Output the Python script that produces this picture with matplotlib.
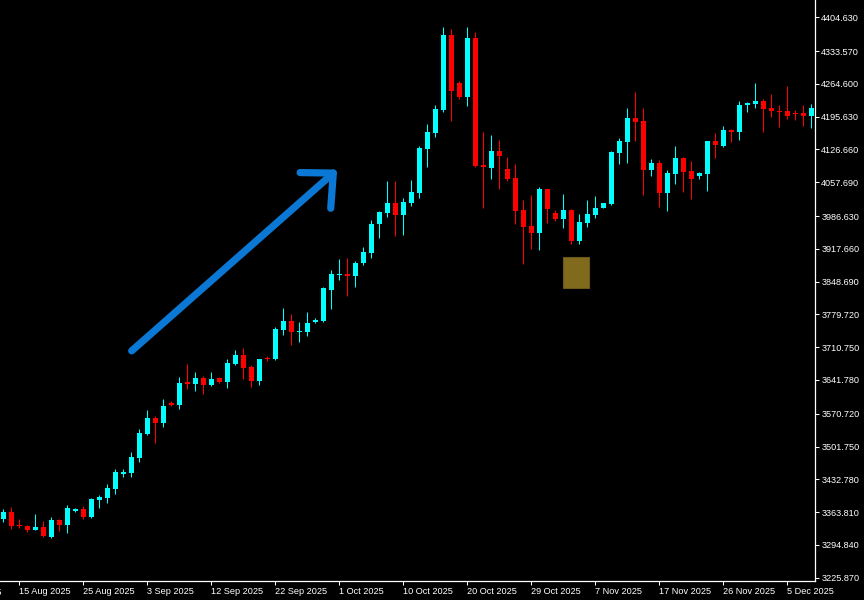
import matplotlib
matplotlib.use("Agg")
import matplotlib.pyplot as plt
from matplotlib.patches import Rectangle
import numpy as np

# daily candles (bar index 0..101), prices
opens = [3349, 3365, 3337, 3335, 3327, 3332, 3312, 3347, 3337, 3366,
         3370, 3354, 3389, 3394, 3412, 3444, 3447, 3478, 3529, 3562,
         3552, 3594, 3589, 3637, 3633, 3646, 3631, 3646, 3638, 3675,
         3694, 3670, 3640, 3689, 3685, 3747, 3766, 3743, 3743, 3764,
         3766, 3832, 3862, 3865, 3861, 3888, 3909, 3969, 3994, 4014,
         3989, 4015, 4035, 4128, 4162, 4210, 4367, 4267, 4238, 4361,
         4094, 4088, 4123, 4085, 4067, 3999, 3966, 3951, 4043, 3993,
         3980, 3999, 3935, 3973, 3989, 4004, 4012, 4120, 4142, 4193,
         4187, 4083, 4098, 4036, 4075, 4109, 4081, 4071, 4075, 4144,
         4134, 4168, 4163, 4220, 4222, 4229, 4214, 4208, 4207, 4203,
         4203, 4196]
highs = [3370, 3375, 3349, 3337, 3360, 3345, 3353, 3349, 3379, 3373,
         3377, 3394, 3400, 3423, 3455, 3455, 3490, 3539, 3579, 3565,
         3602, 3598, 3648, 3675, 3659, 3650, 3659, 3647, 3685, 3705,
         3709, 3673, 3686, 3693, 3753, 3793, 3780, 3764, 3784, 3773,
         3838, 3873, 3896, 3898, 3892, 3921, 3978, 3998, 4060, 4060,
         4025, 4062, 4134, 4180, 4220, 4384, 4379, 4271, 4385, 4374,
         4163, 4157, 4147, 4111, 4097, 4020, 4031, 4048, 4044, 3999,
         4033, 4001, 3991, 4020, 4029, 4014, 4123, 4151, 4214, 4248,
         4214, 4107, 4104, 4083, 4134, 4111, 4102, 4079, 4145, 4161,
         4176, 4170, 4229, 4227, 4266, 4233, 4243, 4220, 4260, 4210,
         4220, 4222]
lows = [3342, 3329, 3330, 3323, 3326, 3311, 3309, 3325, 3320, 3364,
        3350, 3352, 3373, 3384, 3402, 3438, 3437, 3470, 3527, 3510,
        3543, 3586, 3580, 3623, 3619, 3613, 3629, 3636, 3625, 3673,
        3644, 3628, 3632, 3682, 3684, 3737, 3715, 3722, 3734, 3762,
        3764, 3792, 3853, 3818, 3838, 3884, 3899, 3941, 3985, 3945,
        3947, 4008, 4024, 4090, 4153, 4205, 4187, 4233, 4218, 4090,
        4004, 4064, 4043, 4060, 3970, 3886, 3917, 3916, 3972, 3977,
        3962, 3928, 3928, 3964, 3982, 4004, 4010, 4097, 4099, 4144,
        4031, 4071, 4006, 3998, 4055, 4038, 4023, 4065, 4040, 4109,
        4132, 4142, 4147, 4205, 4214, 4163, 4195, 4174, 4191, 4189,
        4176, 4171]
closes = [3365, 3335, 3335, 3326, 3332, 3314, 3347, 3337, 3372, 3370,
          3353, 3391, 3396, 3415, 3448, 3449, 3480, 3530, 3562, 3552,
          3587, 3589, 3635, 3634, 3646, 3632, 3643, 3638, 3677, 3694,
          3668, 3640, 3686, 3686, 3749, 3766, 3743, 3745, 3762, 3768,
          3835, 3865, 3865, 3861, 3888, 3911, 3970, 3995, 4014, 3989,
          4017, 4037, 4130, 4163, 4211, 4367, 4250, 4236, 4361, 4092,
          4089, 4123, 4113, 4064, 3998, 3964, 3951, 4043, 4001, 3980,
          3999, 3935, 3974, 3991, 4003, 4013, 4121, 4144, 4193, 4184,
          4084, 4098, 4036, 4077, 4109, 4079, 4064, 4077, 4144, 4135,
          4168, 4163, 4220, 4224, 4229, 4212, 4208, 4205, 4197, 4201,
          4196, 4213]

# date labels sit on bar indices
date_ticks = [-6, 2, 10, 18, 26, 34, 42, 50, 58, 66, 74, 82, 90, 98]
date_labels = ["6 Aug 2025", "15 Aug 2025", "25 Aug 2025", "3 Sep 2025",
               "12 Sep 2025", "22 Sep 2025", "1 Oct 2025", "10 Oct 2025",
               "20 Oct 2025", "29 Oct 2025", "7 Nov 2025", "17 Nov 2025",
               "26 Nov 2025", "5 Dec 2025"]
price_ticks = [4404.630, 4333.570, 4264.600, 4195.630, 4126.660, 4057.690,
               3986.630, 3917.660, 3848.690, 3779.720, 3710.750, 3641.780,
               3570.720, 3501.750, 3432.780, 3363.810, 3294.840, 3225.870]

bull_color = '#00ffff'
bear_color = '#ff0000'
fg = 'white'
font = 'Liberation Sans'
fs = 6.6

fig = plt.figure(figsize=(8.64, 6.0), dpi=100, facecolor='black')
ax = fig.add_axes([0, 19/600, 815/864, 581/600])
ax.set_facecolor('black')

o = np.array(opens, float)
h = np.array(highs, float)
l = np.array(lows, float)
c = np.array(closes, float)
idx = np.arange(len(o))
cols = [bull_color if cc >= oo else bear_color for oo, cc in zip(o, c)]

# wicks then bodies
ax.vlines(idx, l, h, colors=cols, linewidth=0.75, zorder=2)
body_lo = np.minimum(o, c)
body_h = np.maximum(np.abs(c - o), 2.1)
ax.bar(idx, body_h, bottom=body_lo, width=0.62, color=cols, linewidth=0, zorder=3)

# hand drawn arrow (bar index, price)
shaft_x = [16.05, 41.25]
shaft_y = [3703, 4077]
head_x = [37.1, 41.25, 40.93]
head_y = [4078, 4077, 4003]
arrow_kw = dict(color='#0a78d4', linewidth=5.2, solid_capstyle='round',
                solid_joinstyle='round', zorder=4)
ax.plot(shaft_x, shaft_y, **arrow_kw)
ax.plot(head_x, head_y, **arrow_kw)

# small gold box under the October low
ax.add_patch(Rectangle((69.93, 3834.6), 3.25, 66.5, facecolor='#806a1e',
                       edgecolor='#6a581a', linewidth=0.8, zorder=4))

ax.set_xlim(-0.41, 101.46)
ax.set_ylim(3218.94, 4441.02)

for s in ['top', 'left']:
    ax.spines[s].set_visible(False)
for s in ['right', 'bottom']:
    ax.spines[s].set_color(fg)
    ax.spines[s].set_linewidth(0.9)

ax.yaxis.tick_right()
ax.set_yticks(price_ticks)
ax.set_yticklabels(['%.3f' % v for v in price_ticks])
ax.tick_params(axis='y', colors=fg, length=3, width=0.75, pad=1.5,
               labelsize=fs, labelfontfamily=font)

vis = [(t, s) for t, s in zip(date_ticks, date_labels) if t >= 0]
ax.set_xticks([t for t, s in vis])
ax.set_xticklabels([s for t, s in vis])
ax.tick_params(axis='x', colors=fg, length=3, width=0.75, pad=1.2,
               labelsize=fs, labelfontfamily=font)
for lab in ax.get_xticklabels():
    lab.set_ha('left')

# label of the tick left of the view, only its tail shows
for t, s in zip(date_ticks, date_labels):
    if t < 0:
        ax.text(t, -0.012, s, transform=ax.get_xaxis_transform(), color=fg,
                fontsize=fs, family=font, ha='left', va='top', clip_on=False)

fig.savefig('out.png', dpi=100, facecolor='black')
